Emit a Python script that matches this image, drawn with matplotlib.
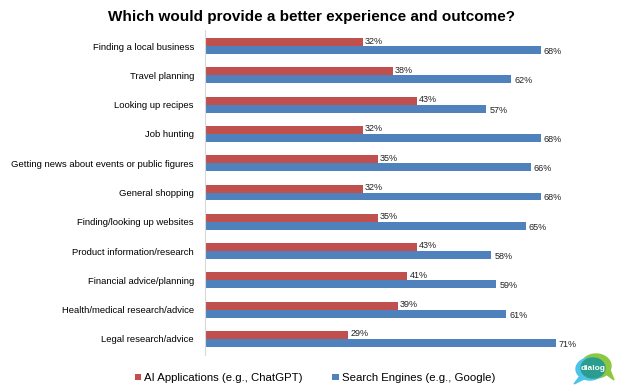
import numpy as np
import matplotlib.pyplot as plt
from matplotlib.patches import Ellipse, Polygon

plt.rcParams['font.family'] = ['Liberation Sans', 'DejaVu Sans']

categories = [
    'Finding a local business',
    'Travel planning',
    'Looking up recipes',
    'Job hunting',
    'Getting news about events or public figures',
    'General shopping',
    'Finding/looking up websites',
    'Product information/research',
    'Financial advice/planning',
    'Health/medical research/advice',
    'Legal research/advice',
]
ai_values = [32, 38, 43, 32, 35, 32, 35, 43, 41, 39, 29]
search_values = [68, 62, 57, 68, 66, 68, 65, 58, 59, 61, 71]

red = '#C0504D'
blue = '#4F81BD'

fig = plt.figure(figsize=(6.24, 3.88), dpi=100)
ax = fig.add_axes([205 / 624, 1 - 355 / 388, 395 / 624, 325 / 388])

y = np.arange(len(categories))
h = 0.27
ax.barh(y - h / 2, ai_values, height=h, color=red, label='AI Applications (e.g., ChatGPT)')
ax.barh(y + h / 2, search_values, height=h, color=blue, label='Search Engines (e.g., Google)')

# 값 라벨
for i, v in enumerate(ai_values):
    ax.text(v + 0.4, i - 0.02, f'{v}%', va='bottom', ha='left', fontsize=6.5, color='#222222')
for i, v in enumerate(search_values):
    ax.text(v + 0.6, i + h / 2 + 0.05, f'{v}%', va='center', ha='left', fontsize=6.5, color='#222222')

ax.set_yticks(y)
ax.set_yticklabels(categories, fontsize=6.8)
ax.set_ylim(len(categories) - 0.45, -0.55)
ax.set_xlim(0, 80)
ax.set_xticks([])
ax.tick_params(axis='y', length=0, pad=8)
for s in ['top', 'right', 'bottom']:
    ax.spines[s].set_visible(False)
ax.spines['left'].set_color('#D9D9D9')
ax.spines['left'].set_linewidth(0.8)

fig.text(0.5, 1 - 17 / 388, 'Which would provide a better experience and outcome?',
         ha='center', va='center', fontsize=11, fontweight='bold')

fig.legend(loc='center', bbox_to_anchor=(0.505, 1 - 378 / 388), ncol=2, frameon=False,
           fontsize=8.2, handlelength=0.55, handleheight=0.55, columnspacing=2.6, handletextpad=0.3)

# dialog 로고
lg = fig.add_axes([568 / 624, 1 - 388 / 388, 50 / 624, 40 / 388])
lg.set_xlim(0, 50)
lg.set_ylim(0, 40)
lg.axis('off')
lg.add_patch(Ellipse((28, 22), 30, 24, color='#8DC63F'))
lg.add_patch(Polygon([[38, 14], [46, 8], [42, 18]], color='#8DC63F'))
lg.add_patch(Ellipse((22, 19), 28, 22, color='#4DC3E8'))
lg.add_patch(Polygon([[12, 12], [6, 4], [18, 10]], color='#4DC3E8'))
lg.add_patch(Ellipse((25, 20), 24, 20, color='#2A9D8F'))
lg.text(25, 20, 'dialog', ha='center', va='center', fontsize=6, color='white', fontweight='bold')

fig.savefig('out.png', dpi=100)
